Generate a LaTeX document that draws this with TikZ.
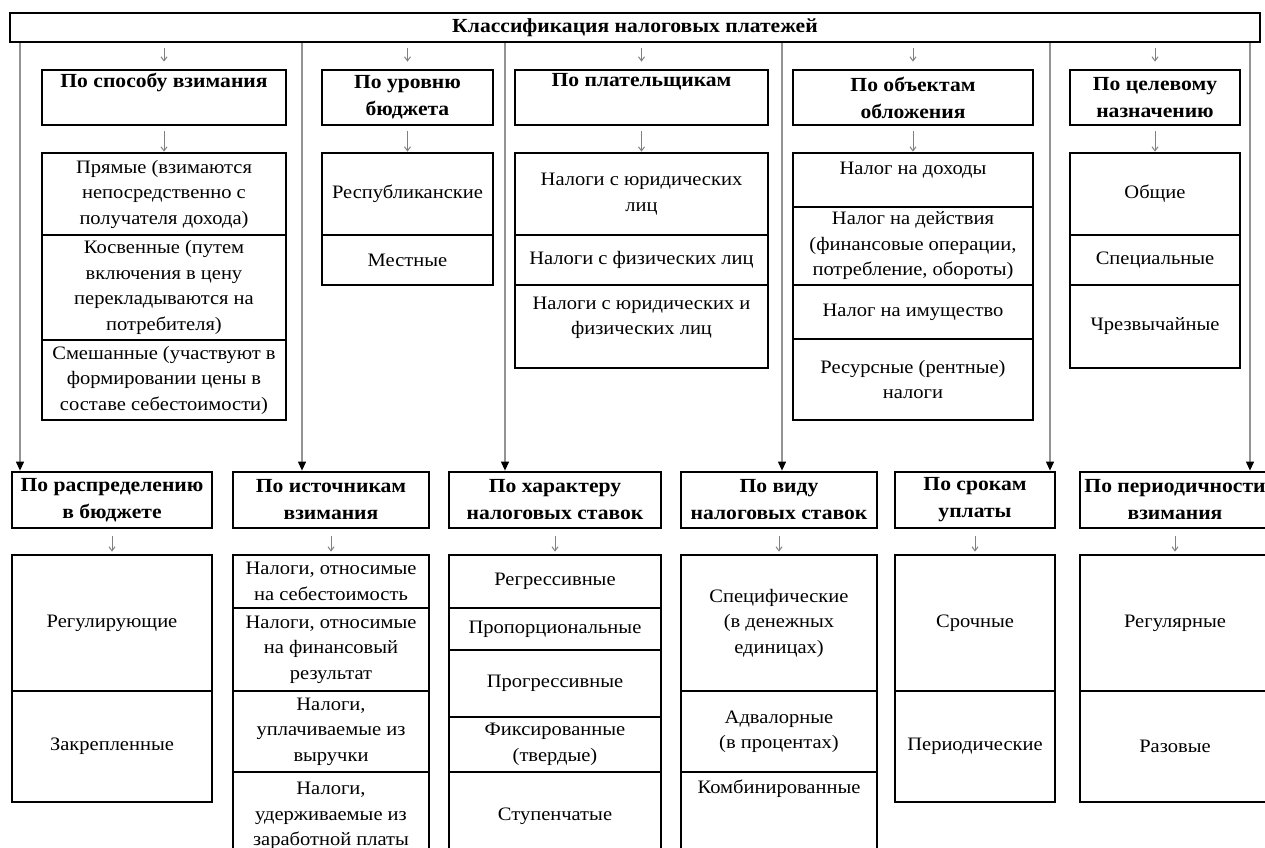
\documentclass[tikz,border=0pt]{standalone}
\usepackage{fontspec}
\setmainfont{Liberation Serif}[FakeStretch=1.08]
\usetikzlibrary{arrows.meta}

\begin{document}
\begin{tikzpicture}[x=0.5pt, y=-0.5pt]
\tikzset{box/.style = {draw, line width=1.4pt, inner sep=0pt, align=center,
  font=\fontsize{9.5}{12.75}\selectfont}}
\tikzset{head/.style = {box, font=\fontsize{10}{13.5}\selectfont\bfseries}}
\tikzset{tick/.style = {gray, line width=0.5pt, -{Straight Barb[length=2pt,width=3pt]}}}
\tikzset{feed/.style = {gray!85, line width=0.6pt, -{Triangle[length=4.5pt,width=4pt,color=black]}}}
\useasboundingbox (0,0) rectangle (1265,847);
\clip (0,0) rectangle (1265,847);
% title
\node[head, minimum width=625pt, minimum height=14.5pt] (title) at (635,27.5) {Классификация налоговых платежей};
% upper headings
\node[head, minimum width=122pt, minimum height=27.5pt] (a1) at (164,97.5) {По способу взимания\\\strut};
\node[head, minimum width=85.5pt, minimum height=27.5pt] (a2) at (407.5,97.5) {По уровню\\бюджета};
\node[head, minimum width=126.5pt, minimum height=27.5pt] (a3) at (641.5,97.5) {По плательщикам\\\strut};
\node[head, minimum width=120pt, minimum height=27.5pt] (a4) at (913,97.5) {По объектам\\обложения};
\node[head, minimum width=85pt, minimum height=27.5pt] (a5) at (1155,97.5) {По целевому\\назначению};
% upper groups
\node[box, minimum width=122pt, minimum height=41pt] (a1-1) at (164,194) {Прямые (взимаются\\непосредственно с\\получателя дохода)};
\node[box, minimum width=122pt, minimum height=52.5pt] (a1-2) at (164,287.5) {Косвенные (путем\\включения в цену\\перекладываются на\\потребителя)};
\node[box, minimum width=122pt, minimum height=40pt] (a1-3) at (164,380) {Смешанные (участвуют в\\формировании цены в\\составе себестоимости)};
\node[box, minimum width=85.5pt, minimum height=41pt] (a2-1) at (407.5,194) {Республиканские};
\node[box, minimum width=85.5pt, minimum height=25pt] (a2-2) at (407.5,260) {Местные};
\node[box, minimum width=126.5pt, minimum height=41pt] (a3-1) at (641.5,194) {Налоги с юридических\\лиц};
\node[box, minimum width=126.5pt, minimum height=25pt] (a3-2) at (641.5,260) {Налоги с физических лиц};
\node[box, minimum width=126.5pt, minimum height=41.5pt] (a3-3) at (641.5,326.5) {Налоги с юридических и\\физических лиц\\[-6pt]\strut};
\node[box, minimum width=120pt, minimum height=27pt] (a4-1) at (913,180) {Налог на доходы\\[-5pt]\strut};
\node[box, minimum width=120pt, minimum height=39pt] (a4-2) at (913,246) {Налог на действия\\(финансовые операции,\\потребление, обороты)};
\node[box, minimum width=120pt, minimum height=27pt] (a4-3) at (913,312) {Налог на имущество};
\node[box, minimum width=120pt, minimum height=40.5pt] (a4-4) at (913,379.5) {Ресурсные (рентные)\\налоги};
\node[box, minimum width=85pt, minimum height=41pt] (a5-1) at (1155,194) {Общие};
\node[box, minimum width=85pt, minimum height=25pt] (a5-2) at (1155,260) {Специальные};
\node[box, minimum width=85pt, minimum height=41.5pt] (a5-3) at (1155,326.5) {Чрезвычайные};
% lower headings
\node[head, minimum width=100pt, minimum height=28pt] (b1) at (112,500) {По распределению\\в бюджете};
\node[head, minimum width=98pt, minimum height=28pt] (b2) at (331,500) {По источникам\\взимания};
\node[head, minimum width=106pt, minimum height=28pt] (b3) at (555,500) {По характеру\\налоговых ставок};
\node[head, minimum width=98pt, minimum height=28pt] (b4) at (779,500) {По виду\\налоговых ставок};
\node[head, minimum width=80pt, minimum height=28pt] (b5) at (975,500) {По срокам\\уплаты};
\node[head, minimum width=95pt, minimum height=28pt] (b6) at (1175,500) {По периодичности\\взимания};
% lower groups
\node[box, minimum width=100pt, minimum height=68pt] (b1-1) at (112,623) {Регулирующие};
\node[box, minimum width=100pt, minimum height=55.5pt] (b1-2) at (112,746.5) {Закрепленные};
\node[box, minimum width=98pt, minimum height=26.5pt] (b2-1) at (331,581.5) {Налоги, относимые\\на себестоимость};
\node[box, minimum width=98pt, minimum height=41.5pt] (b2-2) at (331,649.5) {Налоги, относимые\\на финансовый\\результат};
\node[box, minimum width=98pt, minimum height=40.5pt] (b2-3) at (331,731.5) {Налоги,\\уплачиваемые из\\выручки};
\node[box, minimum width=98pt, minimum height=44pt] (b2-4) at (331,816) {Налоги,\\удерживаемые из\\заработной платы};
\node[box, minimum width=106pt, minimum height=26.5pt] (b3-1) at (555,581.5) {Регрессивные};
\node[box, minimum width=106pt, minimum height=21pt] (b3-2) at (555,629) {Пропорциональные};
\node[box, minimum width=106pt, minimum height=33.5pt] (b3-3) at (555,683.5) {Прогрессивные};
\node[box, minimum width=106pt, minimum height=27.5pt] (b3-4) at (555,744.5) {Фиксированные\\(твердые)};
\node[box, minimum width=106pt, minimum height=44pt] (b3-5) at (555,816) {Ступенчатые};
\node[box, minimum width=98pt, minimum height=68pt] (b4-1) at (779,623) {Специфические\\(в денежных\\единицах)};
\node[box, minimum width=98pt, minimum height=40.5pt] (b4-2) at (779,731.5) {Адвалорные\\(в процентах)};
\node[box, minimum width=98pt, minimum height=44pt] (b4-3) at (779,816) {Комбинированные\\\strut\\\strut};
\node[box, minimum width=80pt, minimum height=68pt] (b5-1) at (975,623) {Срочные};
\node[box, minimum width=80pt, minimum height=55.5pt] (b5-2) at (975,746.5) {Периодические};
\node[box, minimum width=95pt, minimum height=68pt] (b6-1) at (1175,623) {Регулярные};
\node[box, minimum width=95pt, minimum height=55.5pt] (b6-2) at (1175,746.5) {Разовые};
% short arrows into the upper row
\foreach \n in {a1,a2,a3,a4,a5} {
  \draw[tick, shorten <=2.5pt, shorten >=3.5pt] (title.south -| \n.north) -- (\n.north);
  \draw[tick, shorten <=2.5pt] (\n.south) -- (\n-1.north);
}
% short arrows in the lower row
\foreach \n in {b1,b2,b3,b4,b5,b6}
  \draw[tick, shorten <=3.5pt, shorten >=1pt] (\n.south) -- (\n-1.north);
% long lines from the title to the lower row
\draw[feed] (title.south -| 20,0) -- (b1.north -| 20,0);
\draw[feed] (title.south -| 302,0) -- (b2.north -| 302,0);
\draw[feed] (title.south -| 505,0) -- (b3.north -| 505,0);
\draw[feed] (title.south -| 782,0) -- (b4.north -| 782,0);
\draw[feed] (title.south -| 1050,0) -- (b5.north -| 1050,0);
\draw[feed] (title.south -| 1250,0) -- (b6.north -| 1250,0);
\end{tikzpicture}
\end{document}
